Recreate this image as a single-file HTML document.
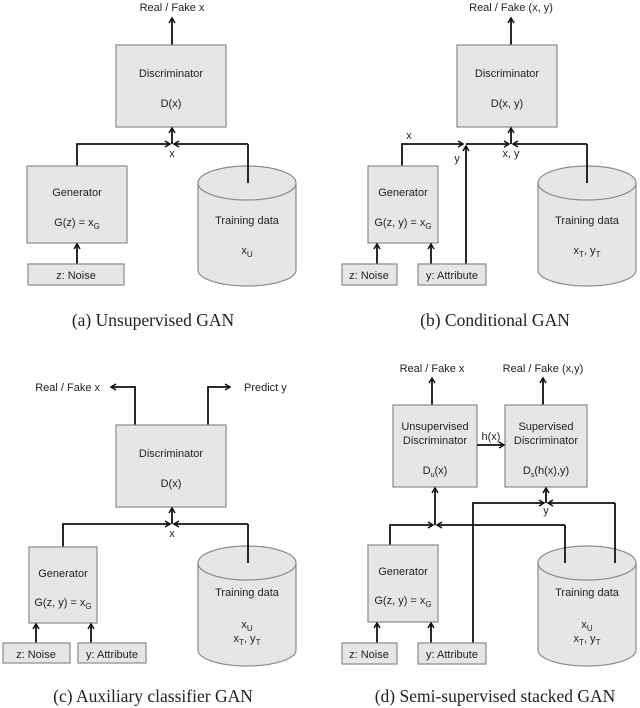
<!DOCTYPE html>
<html><head><meta charset="utf-8"><style>
html,body{margin:0;padding:0;background:#fff;}
svg{display:block;}
text{font-family:"Liberation Sans",sans-serif;font-size:11px;fill:#222;}
.cap{font-family:"Liberation Serif",serif;font-size:17.5px;fill:#222;}
.b{fill:#e6e6e6;stroke:#8a8a8a;stroke-width:1.2;}
.l{fill:none;stroke:#111;stroke-width:1.8;}
</style></head><body>
<svg width="640" height="708" viewBox="0 0 640 708" xmlns="http://www.w3.org/2000/svg">
<defs>
<marker id="a" markerWidth="8" markerHeight="8" refX="6" refY="4" orient="auto" markerUnits="userSpaceOnUse">
<path d="M1,1 L6,4 L1,7" fill="none" stroke="#111" stroke-width="1.5"/>
</marker>
<g id="cyl">
<path d="M0,18 L0,105 A49,16 0 0 0 98,105 L98,18" class="b"/>
<ellipse cx="49" cy="18" rx="49" ry="17" class="b"/>
</g>
</defs>

<!-- (a) -->
<text x="172" y="11" text-anchor="middle">Real / Fake x</text>
<line class="l" x1="172" y1="45" x2="172" y2="18" marker-end="url(#a)"/>
<rect class="b" x="116" y="45" width="110" height="82"/>
<text x="171" y="77" text-anchor="middle">Discriminator</text>
<text x="171" y="107" text-anchor="middle">D(x)</text>
<line class="l" x1="172" y1="144" x2="172" y2="128" marker-end="url(#a)"/>
<polyline class="l" points="77,166 77,144 170,144" marker-end="url(#a)"/>
<line class="l" x1="248" y1="144" x2="174" y2="144" marker-end="url(#a)"/>
<text x="172" y="157" text-anchor="middle">x</text>
<rect class="b" x="27" y="166" width="100" height="77"/>
<text x="77" y="196" text-anchor="middle">Generator</text>
<text x="77" y="226" text-anchor="middle">G(z) = x<tspan font-size="8" dy="3">G</tspan></text>
<line class="l" x1="77" y1="264" x2="77" y2="244" marker-end="url(#a)"/>
<rect class="b" x="28" y="264" width="96" height="21"/>
<text x="76" y="279" text-anchor="middle">z: Noise</text>
<use href="#cyl" x="198" y="165"/>
<line class="l" x1="248" y1="183" x2="248" y2="144"/>
<text x="247" y="224" text-anchor="middle">Training data</text>
<text x="247" y="254" text-anchor="middle">x<tspan font-size="8" dy="3">U</tspan></text>
<text class="cap" x="153" y="326" text-anchor="middle">(a) Unsupervised GAN</text>

<!-- (b) -->
<text x="511" y="11" text-anchor="middle">Real / Fake (x, y)</text>
<line class="l" x1="511" y1="45" x2="511" y2="18" marker-end="url(#a)"/>
<rect class="b" x="457" y="45" width="100" height="82"/>
<text x="507" y="77" text-anchor="middle">Discriminator</text>
<text x="507" y="107" text-anchor="middle">D(x, y)</text>
<line class="l" x1="511" y1="144" x2="511" y2="128" marker-end="url(#a)"/>
<polyline class="l" points="402,166 402,144 463,144" marker-end="url(#a)"/>
<line class="l" x1="466" y1="283" x2="466" y2="146" marker-end="url(#a)"/>
<line class="l" x1="466" y1="144" x2="509" y2="144" marker-end="url(#a)"/>
<line class="l" x1="587" y1="144" x2="513" y2="144" marker-end="url(#a)"/>
<text x="409" y="139" text-anchor="middle">x</text>
<text x="457" y="162" text-anchor="middle">y</text>
<text x="511" y="157" text-anchor="middle">x, y</text>
<rect class="b" x="368" y="166" width="70" height="77"/>
<text x="403" y="196" text-anchor="middle">Generator</text>
<text x="403" y="226" text-anchor="middle">G(z, y) = x<tspan font-size="8" dy="3">G</tspan></text>
<line class="l" x1="377" y1="264" x2="377" y2="244" marker-end="url(#a)"/>
<line class="l" x1="431" y1="264" x2="431" y2="244" marker-end="url(#a)"/>
<rect class="b" x="342" y="264" width="55" height="21"/>
<text x="369" y="279" text-anchor="middle">z: Noise</text>
<rect class="b" x="418" y="264" width="68" height="21"/>
<text x="452" y="279" text-anchor="middle">y: Attribute</text>
<use href="#cyl" x="538" y="165"/>
<line class="l" x1="587" y1="183" x2="587" y2="144"/>
<text x="587" y="224" text-anchor="middle">Training data</text>
<text x="587" y="254" text-anchor="middle">x<tspan font-size="8" dy="3">T</tspan><tspan dy="-3">, y</tspan><tspan font-size="8" dy="3">T</tspan></text>
<text class="cap" x="495" y="326" text-anchor="middle">(b) Conditional GAN</text>

<!-- (c) -->
<text x="100" y="391" text-anchor="end">Real / Fake x</text>
<polyline class="l" points="135,425 135,387 111,387" marker-end="url(#a)"/>
<text x="244" y="391">Predict y</text>
<polyline class="l" points="208,425 208,387 230,387" marker-end="url(#a)"/>
<rect class="b" x="116" y="425" width="110" height="82"/>
<text x="171" y="457" text-anchor="middle">Discriminator</text>
<text x="171" y="487" text-anchor="middle">D(x)</text>
<line class="l" x1="172" y1="524" x2="172" y2="508" marker-end="url(#a)"/>
<polyline class="l" points="63,547 63,524 170,524" marker-end="url(#a)"/>
<line class="l" x1="248" y1="524" x2="174" y2="524" marker-end="url(#a)"/>
<text x="172" y="537" text-anchor="middle">x</text>
<rect class="b" x="29" y="547" width="68" height="76"/>
<text x="63" y="577" text-anchor="middle">Generator</text>
<text x="63" y="606" text-anchor="middle">G(z, y) = x<tspan font-size="8" dy="3">G</tspan></text>
<line class="l" x1="36" y1="643" x2="36" y2="624" marker-end="url(#a)"/>
<line class="l" x1="91" y1="643" x2="91" y2="624" marker-end="url(#a)"/>
<rect class="b" x="3" y="643" width="67" height="20"/>
<text x="36" y="658" text-anchor="middle">z: Noise</text>
<rect class="b" x="78" y="643" width="68" height="20"/>
<text x="112" y="658" text-anchor="middle">y: Attribute</text>
<use href="#cyl" x="198" y="545"/>
<line class="l" x1="248" y1="563" x2="248" y2="524"/>
<text x="247" y="596" text-anchor="middle">Training data</text>
<text x="247" y="628" text-anchor="middle">x<tspan font-size="8" dy="3">U</tspan></text>
<text x="247" y="642" text-anchor="middle">x<tspan font-size="8" dy="3">T</tspan><tspan dy="-3">, y</tspan><tspan font-size="8" dy="3">T</tspan></text>
<text class="cap" x="153" y="702" text-anchor="middle">(c) Auxiliary classifier GAN</text>

<!-- (d) -->
<text x="432" y="372" text-anchor="middle">Real / Fake x</text>
<line class="l" x1="432" y1="405" x2="432" y2="378" marker-end="url(#a)"/>
<text x="543" y="372" text-anchor="middle">Real / Fake (x,y)</text>
<line class="l" x1="543" y1="405" x2="543" y2="378" marker-end="url(#a)"/>
<rect class="b" x="393" y="405" width="84" height="82"/>
<text x="435" y="430" text-anchor="middle">Unsupervised</text>
<text x="435" y="444" text-anchor="middle">Discriminator</text>
<text x="435" y="474" text-anchor="middle">D<tspan font-size="7" dy="3">u</tspan><tspan dy="-3">(x)</tspan></text>
<rect class="b" x="505" y="405" width="82" height="82"/>
<text x="546" y="430" text-anchor="middle">Supervised</text>
<text x="546" y="444" text-anchor="middle">Discriminator</text>
<text x="546" y="474" text-anchor="middle">D<tspan font-size="7" dy="3">s</tspan><tspan dy="-3">(h(x),y)</tspan></text>
<line class="l" x1="477" y1="445" x2="504" y2="445" marker-end="url(#a)"/>
<text x="491" y="440" text-anchor="middle">h(x)</text>
<line class="l" x1="435" y1="525" x2="435" y2="488" marker-end="url(#a)"/>
<polyline class="l" points="390,545 390,525 433,525" marker-end="url(#a)"/>
<line class="l" x1="546" y1="503" x2="546" y2="488" marker-end="url(#a)"/>
<polyline class="l" points="473,643 473,503 544,503" marker-end="url(#a)"/>
<line class="l" x1="615" y1="503" x2="548" y2="503" marker-end="url(#a)"/>
<line class="l" x1="565" y1="525" x2="437" y2="525" marker-end="url(#a)"/>
<text x="546" y="514" text-anchor="middle">y</text>
<rect class="b" x="368" y="545" width="70" height="77"/>
<text x="403" y="575" text-anchor="middle">Generator</text>
<text x="403" y="604" text-anchor="middle">G(z, y) = x<tspan font-size="8" dy="3">G</tspan></text>
<line class="l" x1="377" y1="643" x2="377" y2="623" marker-end="url(#a)"/>
<line class="l" x1="431" y1="643" x2="431" y2="623" marker-end="url(#a)"/>
<rect class="b" x="342" y="643" width="55" height="21"/>
<text x="369" y="658" text-anchor="middle">z: Noise</text>
<rect class="b" x="418" y="643" width="68" height="21"/>
<text x="452" y="658" text-anchor="middle">y: Attribute</text>
<use href="#cyl" x="538" y="545"/>
<line class="l" x1="565" y1="563" x2="565" y2="525"/>
<line class="l" x1="615" y1="563" x2="615" y2="503"/>
<text x="587" y="596" text-anchor="middle">Training data</text>
<text x="587" y="628" text-anchor="middle">x<tspan font-size="8" dy="3">U</tspan></text>
<text x="587" y="642" text-anchor="middle">x<tspan font-size="8" dy="3">T</tspan><tspan dy="-3">, y</tspan><tspan font-size="8" dy="3">T</tspan></text>
<text class="cap" x="495" y="702" text-anchor="middle">(d) Semi-supervised stacked GAN</text>
</svg>
</body></html>
